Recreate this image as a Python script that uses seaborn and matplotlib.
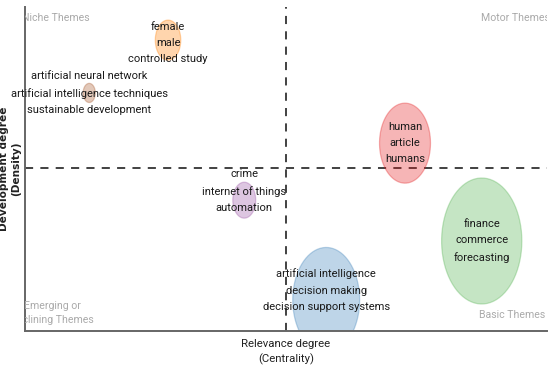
import matplotlib
matplotlib.use("Agg")
import matplotlib.pyplot as plt
from matplotlib.path import Path
import numpy as np
import pandas as pd
import seaborn as sns

# ---- data ----
clusters = ["female", "artificial neural network", "human", "finance",
            "artificial intelligence", "crime"]
labels = [
    "female\nmale\ncontrolled study",
    "artificial neural network\nartificial intelligence techniques\nsustainable development",
    "human\narticle\nhumans",
    "finance\ncommerce\nforecasting",
    "artificial intelligence\ndecision making\ndecision support systems",
    "crime\ninternet of things\nautomation",
]
centrality = [0.274, 0.123, 0.728, 0.875, 0.577, 0.420]
density = [0.898, 0.735, 0.580, 0.278, 0.096, 0.404]
frequency = [83, 19, 332, 823, 572, 67]
colors = ["#FF7F00", "#A65628", "#E41A1C", "#4DAF4A", "#377EB8", "#984EA3"]
label_dy = [-2, 0, 0, 0, 7, 6.5]  # label offset (points)
centrality_median = 0.5
density_median = 0.503

df = pd.DataFrame({"cluster": clusters, "centrality": centrality,
                   "density": density, "frequency": frequency})

sns.set_theme(style="white")
FONT = ["Roboto", "Open Sans", "DejaVu Sans"]
plt.rcParams["font.family"] = FONT

fig = plt.figure(figsize=(5.5, 3.72), dpi=100)
ax = fig.add_axes([0.0455, 0.110, 0.949, 0.871])

# ellipse marker (bubbles look stretched in the reference)
t = np.linspace(0, 2 * np.pi, 80)
ell = Path(np.column_stack([np.cos(t) * 0.5, np.sin(t) * 0.785]), closed=True)

ax.axvline(centrality_median, color="#333333", lw=1.3, ls=(0, (4.5, 4)), zorder=1)
ax.axhline(density_median, color="#333333", lw=1.3, ls=(0, (4.5, 4)), zorder=1)

sns.scatterplot(data=df, x="centrality", y="density", hue="cluster",
                palette=dict(zip(clusters, colors)), size="frequency",
                sizes=(190, 8230), marker=ell, alpha=0.32, linewidth=0.9,
                edgecolor=[c for c in colors], legend=False, ax=ax, zorder=2)

for lab, x, y, dy in zip(labels, centrality, density, label_dy):
    ax.annotate(lab, (x, y), xytext=(0, dy), textcoords="offset points",
                ha="center", va="center", fontsize=8.0, color="#1a1a1a",
                linespacing=1.78, zorder=3)

qkw = dict(fontsize=7.6, color="#aaaaaa", clip_on=True, zorder=3)
ax.text(-0.006, 0.967, "Niche Themes", ha="left", va="center",
        transform=ax.transAxes, **qkw)
ax.text(1.006, 0.967, "Motor Themes", ha="right", va="center",
        transform=ax.transAxes, **qkw)
ax.text(0.052, 0.057, "Emerging or\nDeclining Themes", ha="center",
        va="center", multialignment="center", linespacing=1.5,
        transform=ax.transAxes, **qkw)
ax.text(0.997, 0.05, "Basic Themes", ha="right", va="center",
        transform=ax.transAxes, **qkw)

ax.set_xlim(0, 1)
ax.set_ylim(0, 1)
ax.set_xticks([])
ax.set_yticks([])
for s in ["top", "right"]:
    ax.spines[s].set_visible(False)
for s in ["left", "bottom"]:
    ax.spines[s].set_color("#666666")
    ax.spines[s].set_linewidth(1.4)

ax.set_xlabel("Relevance degree\n(Centrality)", fontsize=8.2, color="#222222",
              labelpad=6, linespacing=1.5)
ax.set_ylabel("Development degree\n(Density)", fontsize=7.6, color="#222222",
              fontweight="bold", family="DejaVu Sans", labelpad=3,
              linespacing=1.2)

fig.savefig("out.png", dpi=100)
